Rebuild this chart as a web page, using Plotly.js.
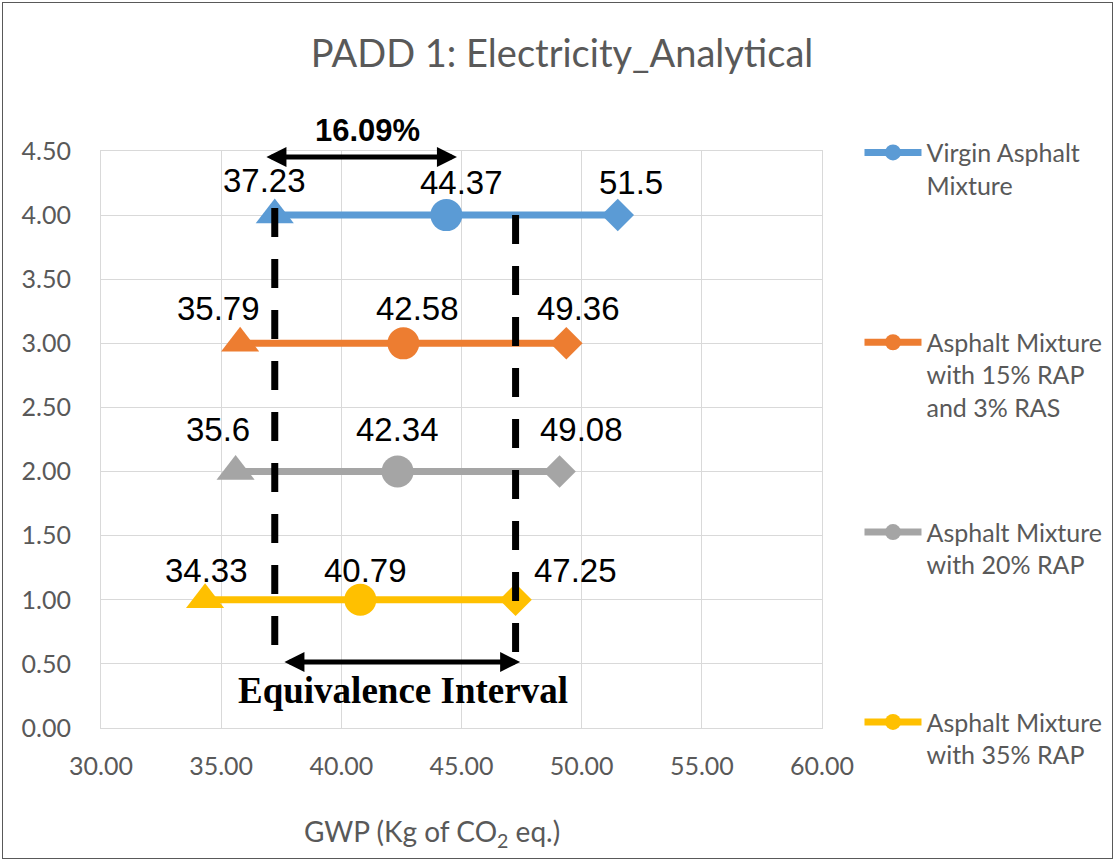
<!DOCTYPE html>
<html><head><meta charset="utf-8">
<script src="https://cdn.plot.ly/plotly-3.0.1.min.js"></script>
<style>
html,body{margin:0;padding:0;background:#fff;}
#chart{width:1115px;height:861px;}
#frame{position:absolute;left:2px;top:2px;width:1109px;height:855px;border:1px solid #595959;pointer-events:none;}
</style>
</head><body><div id="chart"></div><div id="frame"></div>
<script>
// ---- data ----
const seriesNames = ['Virgin Asphalt<br>Mixture', 'Asphalt Mixture<br>with 15% RAP<br>and 3% RAS', 'Asphalt Mixture<br>with 20% RAP', 'Asphalt Mixture<br>with 35% RAP'];
const seriesLevel = [4, 3, 2, 1];
const minGWP = [37.23, 35.79, 35.6, 34.33];
const meanGWP = [44.37, 42.58, 42.34, 40.79];
const maxGWP = [51.5, 49.36, 49.08, 47.25];
const eqLow = 37.23;
const eqHigh = 47.25;
const diffLabel = '16.09%';
const intervalLabel = 'Equivalence Interval';
const xTitle = 'GWP (Kg of CO<sub>2</sub> eq.)';
const chartTitle = 'PADD 1: Electricity_Analytical';

// ---- styles ----
const colors = ['#5B9BD5', '#ED7D31', '#A5A5A5', '#FFC000'];
const symbols = ['triangle-up', 'circle', 'diamond'];
const symSizes = [33, 32, 25];
// label offsets (px) per series: [min, mean, max]
const shiftX = [[-10, 15, 13], [-22, 14, 12], [-18, 0, 22], [1, 5, 60]];
const shiftY = [[35, 33, 33], [35, 35, 35], [42, 42, 42], [29, 29, 29]];
const FONT = 'Lato, sans-serif';
const GRAY = '#595959';
const LBL_FONT = 'Liberation Sans, Arial, sans-serif';

const traces = [];
const annotations = [];
for (let i = 0; i < seriesLevel.length; i++) {
  const xs = [minGWP[i], meanGWP[i], maxGWP[i]];
  const ys = [seriesLevel[i], seriesLevel[i], seriesLevel[i]];
  traces.push({
    x: xs, y: ys, type: 'scatter', mode: 'lines+markers',
    line: {color: colors[i], width: 7},
    marker: {symbol: symbols, size: symSizes, color: colors[i], opacity: 1, line: {width: 0}},
    showlegend: false, hoverinfo: 'skip', cliponaxis: false
  });
  traces.push({
    x: [null], y: [null], type: 'scatter', mode: 'lines+markers',
    name: seriesNames[i],
    line: {color: colors[i], width: 7},
    marker: {symbol: 'circle', size: 16, color: colors[i]},
    legend: i === 0 ? 'legend' : 'legend' + (i + 1)
  });
  for (let k = 0; k < 3; k++) {
    annotations.push({
      x: xs[k], y: ys[k], xref: 'x', yref: 'y', text: String(xs[k]),
      showarrow: false, xanchor: 'center', yanchor: 'middle',
      xshift: shiftX[i][k], yshift: shiftY[i][k],
      font: {family: LBL_FONT, size: 33, color: '#000'}
    });
  }
}

// arrows
annotations.push({
  x: 44.81, y: 4.454, ax: 36.82, ay: 4.454, xref: 'x', yref: 'y', axref: 'x', ayref: 'y',
  text: '', showarrow: true, arrowhead: 2, arrowside: 'end+start', arrowsize: 0.8, arrowwidth: 5, arrowcolor: '#000'
});
annotations.push({
  x: 47.44, y: 0.515, ax: 37.57, ay: 0.515, xref: 'x', yref: 'y', axref: 'x', ayref: 'y',
  text: '', showarrow: true, arrowhead: 2, arrowside: 'end+start', arrowsize: 0.8, arrowwidth: 5, arrowcolor: '#000'
});
annotations.push({
  x: 0.369, y: 1.035, xref: 'paper', yref: 'paper', text: '<b>' + diffLabel + '</b>', showarrow: false,
  xanchor: 'center', yanchor: 'middle',
  font: {family: LBL_FONT, size: 31, color: '#000'}
});
annotations.push({
  x: 42.57, y: 0.29, xref: 'x', yref: 'y', text: '<b>' + intervalLabel + '</b>', showarrow: false,
  font: {family: 'Liberation Serif, Times New Roman, serif', size: 37, color: '#000'}
});
annotations.push({
  x: 0.459, y: -0.182, xref: 'paper', yref: 'paper', text: xTitle, showarrow: false,
  xanchor: 'center', yanchor: 'middle',
  font: {family: FONT, size: 28, color: GRAY}
});

const shapes = [
  {type: 'line', xref: 'x', yref: 'y', x0: eqLow, x1: eqLow, y0: 4.056, y1: 0.6,
   line: {color: '#000', width: 7, dash: '29px,22px'}},
  {type: 'line', xref: 'x', yref: 'y', x0: eqHigh, x1: eqHigh, y0: 4.0, y1: 0.57,
   line: {color: '#000', width: 7, dash: '29px,22px'}}
];

function leg(y) {
  return {x: 1.052, y: y, xanchor: 'left', yanchor: 'top', valign: 'top',
    bgcolor: 'rgba(0,0,0,0)', itemwidth: 57,
    font: {family: FONT, size: 25, color: GRAY}};
}

const layout = {
  width: 1115, height: 861,
  paper_bgcolor: '#fff', plot_bgcolor: '#fff',
  margin: {l: 101, r: 293, t: 151, b: 133, autoexpand: false},
  title: {text: chartTitle, x: 0.504, xref: 'container', xanchor: 'center',
    y: 0.938, yref: 'container', yanchor: 'middle',
    font: {family: FONT, size: 38, color: GRAY}},
  xaxis: {range: [30, 60], dtick: 5, tick0: 30, tickformat: '.2f', showgrid: true, gridcolor: '#d9d9d9', gridwidth: 1,
    showline: true, linecolor: '#d9d9d9', linewidth: 1, mirror: true, zeroline: false, ticks: '',
    ticklabelstandoff: 16, tickfont: {family: FONT, size: 25, color: GRAY}, fixedrange: true},
  yaxis: {range: [0, 4.5], dtick: 0.5, tick0: 0, tickformat: '.2f', showgrid: true, gridcolor: '#d9d9d9', gridwidth: 1,
    showline: true, linecolor: '#d9d9d9', linewidth: 1, mirror: true, zeroline: false, ticks: '',
    ticklabelstandoff: 24, tickfont: {family: FONT, size: 25, color: GRAY}, fixedrange: true},
  legend: leg(1.037), legend2: leg(0.708), legend3: leg(0.379), legend4: leg(0.05),
  annotations: annotations,
  shapes: shapes,
  showlegend: true
};

Plotly.newPlot('chart', traces, layout, {displayModeBar: false, staticPlot: true});
</script></body></html>
